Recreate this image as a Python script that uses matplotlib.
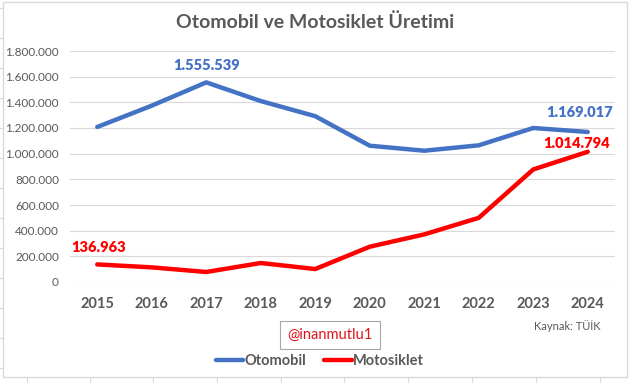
import matplotlib
matplotlib.use("Agg")
import matplotlib.pyplot as plt
from matplotlib.patches import Rectangle
from matplotlib.lines import Line2D
from matplotlib.ticker import FuncFormatter

plt.rcParams['font.family'] = ['Lato', 'DejaVu Sans']

# Veriler
years = ['2015', '2016', '2017', '2018', '2019', '2020', '2021', '2022', '2023', '2024']
otomobil = [1208000, 1374000, 1555539, 1410000, 1292000, 1062000, 1023000, 1065000, 1200000, 1169017]
motosiklet = [136963, 114000, 78000, 148000, 101000, 275000, 371000, 500000, 877000, 1014794]
yticks = [0, 200000, 400000, 600000, 800000, 1000000, 1200000, 1400000, 1600000, 1800000]

BLUE = '#4472C4'
RED = '#FF0000'
GRAY = '#595959'

W, H = 630, 383
fig = plt.figure(figsize=(W / 100, H / 100), dpi=100)

# Excel grafik alanı çerçevesi
fig.patches.append(Rectangle((3 / W, 1 - 377 / H), 624 / W, 375 / H,
                             transform=fig.transFigure, fill=False,
                             edgecolor='#D9D9D9', linewidth=1))
# Arka plandaki tablo hücre çizgileri
for xc in [27, 90, 153, 217, 281, 344, 408, 472, 536, 600]:
    fig.lines.append(Line2D([xc / W, xc / W], [0, 1 - 378 / H],
                            transform=fig.transFigure, color='#D9D9D9', lw=0.8))
for yr in range(8, 377, 30):
    fig.lines.append(Line2D([0, 3 / W], [1 - yr / H, 1 - yr / H],
                            transform=fig.transFigure, color='#D9D9D9', lw=0.8))

ax = fig.add_axes([70 / W, 1 - 282 / H, 545 / W, 231 / H])
x = list(range(len(years)))

ax.plot(x, otomobil, color=BLUE, lw=3.2, solid_capstyle='round', label='Otomobil')
ax.plot(x, motosiklet, color=RED, lw=3.2, solid_capstyle='round', label='Motosiklet')

ax.set_xlim(-0.5, len(years) - 0.5)
ax.set_ylim(0, 1800000)
ax.set_yticks(yticks)
ax.yaxis.set_major_formatter(FuncFormatter(lambda v, p: f'{int(v):,}'.replace(',', '.')))
ax.set_xticks(x)
ax.set_xticklabels(years, fontweight='bold', fontsize=10.5, color=GRAY)
ax.tick_params(axis='y', length=0, pad=8, labelsize=8.5, labelcolor=GRAY)
ax.tick_params(axis='x', length=0, pad=11)
ax.grid(axis='y', color='#D9D9D9', lw=0.8)
ax.set_axisbelow(True)
for s in ax.spines.values():
    s.set_visible(False)

def fmt(v):
    return f'{v:,}'.replace(',', '.')

# Veri etiketleri
etiketler = [
    (2, otomobil[2], BLUE, (0, 12.5)),
    (9, otomobil[-1], BLUE, (-6, 14)),
    (9, motosiklet[-1], RED, (-8, 6)),
    (0, motosiklet[0], RED, (1, 12)),
]
for xi, v, c, off in etiketler:
    ax.annotate(fmt(v), (xi, v), xytext=off, textcoords='offset points',
                ha='center', va='center', color=c, fontweight='heavy', fontsize=10.5)

fig.text(315 / W, 1 - 22 / H, 'Otomobil ve Motosiklet Üretimi', ha='center', va='center',
         fontsize=14, fontweight='bold', color=GRAY)

fig.text(601 / W, 1 - 326 / H, 'Kaynak: TÜİK', ha='right', va='center',
         fontsize=8, color=GRAY)

fig.text(330 / W, 1 - 335 / H, '@inanmutlu1', ha='center', va='center',
         fontsize=10.5, color='#E0141E',
         bbox=dict(boxstyle='square,pad=0.5', fc='white', ec='#A6A6A6', lw=0.8))

leg = fig.legend(loc='center', bbox_to_anchor=(320 / W, 1 - 361 / H), ncol=2, frameon=False,
                 handlelength=1.9, handletextpad=0.1, columnspacing=1.2,
                 prop={'weight': 'bold', 'size': 10.5})
for t in leg.get_texts():
    t.set_color(GRAY)

fig.savefig('out.png', dpi=100, facecolor='white')
